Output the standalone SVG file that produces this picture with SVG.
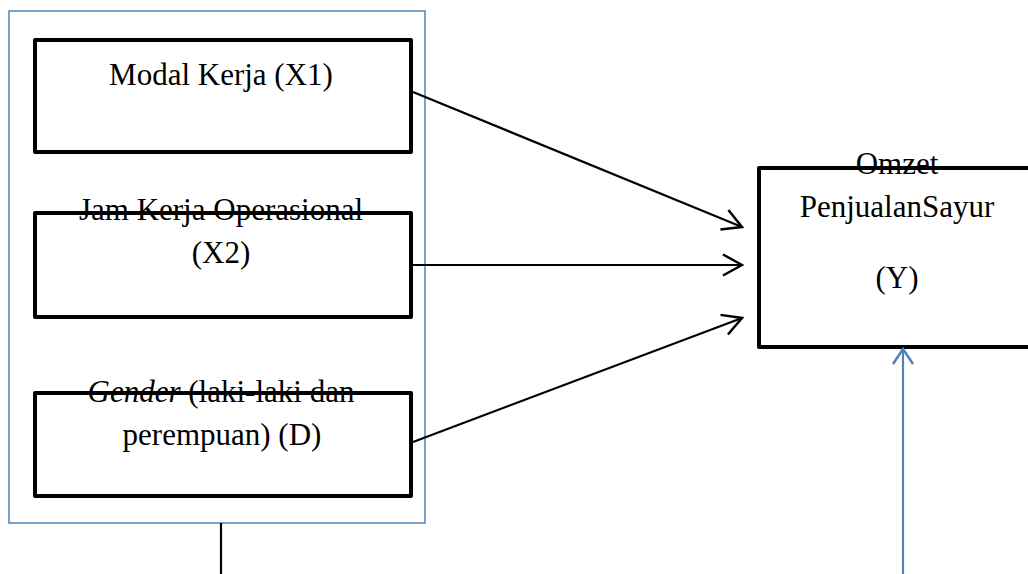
<svg xmlns="http://www.w3.org/2000/svg" width="1028" height="574" viewBox="0 0 1028 574">
<style>
.box{fill:#fff;stroke:#000;stroke-width:4;stroke-linejoin:round}
.t{font-family:"Liberation Serif","Times New Roman",serif;font-size:31px;fill:#000;text-anchor:middle}
.con{stroke:#000;stroke-width:2.2;fill:none}
.blue{stroke:#4F81BD;stroke-width:2.2;fill:none}
</style>
<defs>
<marker id="ah" markerUnits="userSpaceOnUse" viewBox="0 0 22 24" markerWidth="22" markerHeight="24" refX="20" refY="12" orient="auto">
<path d="M1,1.5 L20,12 L1,22.5" fill="none" stroke="#000" stroke-width="2.5"/>
</marker>
<marker id="ahb" markerUnits="userSpaceOnUse" viewBox="0 0 18 24" markerWidth="18" markerHeight="24" refX="16" refY="12" orient="auto">
<path d="M1,2 L16,12 L1,22" fill="none" stroke="#4F81BD" stroke-width="2.5"/>
</marker>
</defs>
<g id="group-frame">
<rect x="9" y="11" width="416" height="512" fill="none" stroke="#4F81BD" stroke-width="1.5"/>
</g>
<g id="node-x1">
<rect class="box" x="35" y="40" width="376" height="112"/>
<text class="t" x="221" y="85">Modal Kerja (X1)</text>
</g>
<g id="node-x2">
<rect class="box" x="35" y="213" width="376" height="104"/>
<text class="t" x="221" y="220">Jam Kerja Operasional</text>
<text class="t" x="221" y="263">(X2)</text>
</g>
<g id="node-d">
<rect class="box" x="35" y="393" width="376" height="103"/>
<text class="t" x="221" y="402"><tspan font-style="italic">Gender</tspan> (laki-laki dan</text>
<text class="t" x="222" y="445">perempuan) (D)</text>
</g>
<g id="node-y">
<rect class="box" x="759" y="168" width="290" height="179"/>
<text class="t" x="897" y="174">Omzet</text>
<text class="t" x="897" y="217">PenjualanSayur</text>
<text class="t" x="897" y="288">(Y)</text>
</g>
<g id="connectors">
<line class="con" x1="413" y1="92" x2="742" y2="227" marker-end="url(#ah)"/>
<line class="con" x1="413" y1="265" x2="742" y2="265" marker-end="url(#ah)"/>
<line class="con" x1="413" y1="442" x2="742" y2="318" marker-end="url(#ah)"/>
<line class="blue" x1="903" y1="574" x2="903" y2="349" marker-end="url(#ahb)"/>
<line class="con" x1="221" y1="523" x2="221" y2="574"/>
</g>
</svg>
